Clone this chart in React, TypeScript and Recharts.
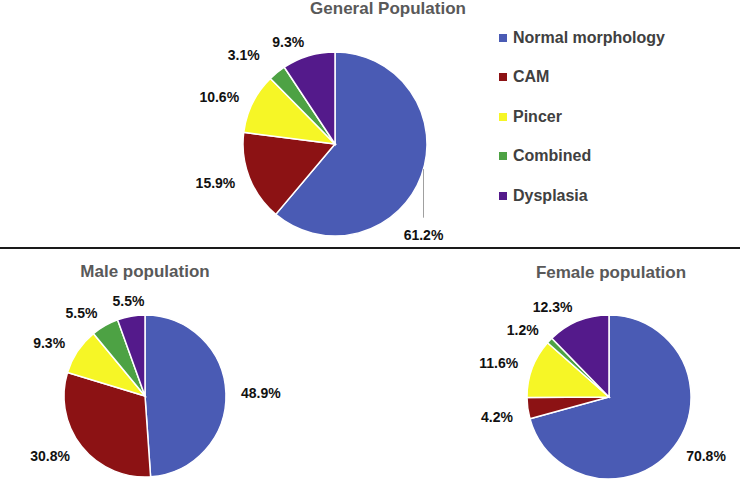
import React from 'react';
import { PieChart, Pie, Cell, Legend } from 'recharts';

const categories = ['Normal morphology', 'CAM', 'Pincer', 'Combined', 'Dysplasia'];
const colors = ['#4a5bb4', '#8c1214', '#f6f626', '#4da244', '#541a8b'];

const generalValues = [61.2, 15.9, 10.6, 3.1, 9.3];
const maleValues = [48.9, 30.8, 9.3, 5.5, 5.5];
const femaleValues = [70.8, 4.2, 11.6, 1.2, 12.3];

const toRows = (values: number[]) => categories.map((name, i) => ({ name, value: values[i] }));

const FONT = '"Liberation Sans", Arial, sans-serif';
const RAD = Math.PI / 180;

// a few labels are moved off their default spot, like the original
const labelNudge: Record<string, { dx: number; dy: number; anchor?: 'start' | 'middle' | 'end'; leader?: boolean }> = {
  'general:Normal morphology': { dx: -12, dy: 54, anchor: 'middle', leader: true },
  'general:Combined': { dx: -8, dy: -6 },
  'female:CAM': { dx: 0, dy: 7 },
};

const makeLabel = (chart: string) => (props: any) => {
  const { cx, cy, midAngle, outerRadius, value } = props;
  const name = props.payload?.name ?? props.name;
  const cos = Math.cos(-midAngle * RAD);
  const sin = Math.sin(-midAngle * RAD);
  const r = outerRadius + 15;
  const nudge = labelNudge[`${chart}:${name}`];
  const x = cx + r * cos + (nudge?.dx ?? 0);
  const y = cy + r * sin + (nudge?.dy ?? 0);
  const anchor = nudge?.anchor ?? (cos > 0.3 ? 'start' : cos < -0.2 ? 'end' : 'middle');
  return (
    <g>
      {nudge?.leader && (
        <line
          x1={x}
          y1={cy + Math.sqrt(Math.max(0, outerRadius * outerRadius - (x - cx) * (x - cx)))}
          x2={x}
          y2={y - 17}
          stroke="#a0a0a0"
          strokeWidth={1}
        />
      )}
      <text
        x={x}
        y={y}
        textAnchor={anchor}
        dominantBaseline="central"
        fontFamily={FONT}
        fontWeight="bold"
        fontSize={14}
        fill="#111"
      >
        {`${Number(value).toFixed(1)}%`}
      </text>
    </g>
  );
};

const LegendBox = () => (
  <div style={{ fontFamily: FONT }}>
    {categories.map((c, i) => (
      <div key={c} style={{ height: 39.5, display: 'flex', alignItems: 'center' }}>
        <span style={{ width: 8, height: 8, background: colors[i], marginRight: 6, display: 'inline-block' }} />
        <span style={{ fontSize: 16, fontWeight: 'bold', color: '#404040' }}>{c}</span>
      </div>
    ))}
  </div>
);

const Title = ({ text, x, y }: { text: string; x: number; y: number }) => (
  <div
    style={{
      position: 'absolute',
      left: x,
      top: y,
      transform: 'translate(-50%, -50%)',
      fontFamily: FONT,
      fontWeight: 'bold',
      fontSize: 17,
      color: '#595959',
      whiteSpace: 'nowrap',
    }}
  >
    {text}
  </div>
);

const pieProps = {
  dataKey: 'value',
  nameKey: 'name',
  startAngle: 90,
  endAngle: -270,
  stroke: '#fff',
  strokeWidth: 1.5,
  isAnimationActive: false,
  labelLine: false,
};

export default function App() {
  return (
    <div style={{ position: 'absolute', left: 0, top: 0, width: 740, height: 481, background: '#fff' }}>
      <PieChart width={740} height={481} margin={{ top: 0, right: 0, bottom: 0, left: 0 }}>
        <Pie {...pieProps} data={toRows(generalValues)} cx={335} cy={144} outerRadius={92} label={makeLabel('general')}>
          {categories.map((c, i) => (
            <Cell key={c} fill={colors[i]} />
          ))}
        </Pie>
        <Pie {...pieProps} data={toRows(maleValues)} cx={145} cy={396} outerRadius={81} label={makeLabel('male')}>
          {categories.map((c, i) => (
            <Cell key={c} fill={colors[i]} />
          ))}
        </Pie>
        <Pie {...pieProps} data={toRows(femaleValues)} cx={609} cy={397} outerRadius={82} label={makeLabel('female')}>
          {categories.map((c, i) => (
            <Cell key={c} fill={colors[i]} />
          ))}
        </Pie>
        <Legend
          layout="vertical"
          verticalAlign="top"
          align="right"
          wrapperStyle={{ left: 499, right: 'auto', top: 18, width: 230 }}
          content={() => <LegendBox />}
        />
      </PieChart>
      <Title text="General Population" x={388} y={9} />
      <Title text="Male population" x={145} y={272} />
      <Title text="Female population" x={611} y={273} />
      <div style={{ position: 'absolute', left: 0, top: 247, width: 740, height: 2, background: '#1a1a1a' }} />
    </div>
  );
}
